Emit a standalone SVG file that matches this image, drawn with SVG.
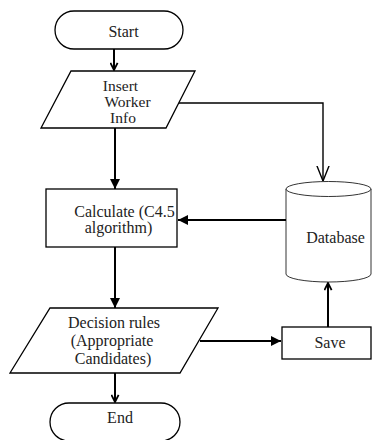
<svg xmlns="http://www.w3.org/2000/svg" width="372" height="440" viewBox="0 0 372 440">
<style>
.shape{fill:#fff;stroke:#000;stroke-width:1.3}
.thin{fill:#fff;stroke:#000;stroke-width:0.8}
.t{font-family:"Liberation Serif","Times New Roman",serif;font-size:16px;fill:#222;text-anchor:middle}
.s{font-size:15.5px}
.c{fill:none;stroke:#000;stroke-width:2}
.c1{fill:none;stroke:#000;stroke-width:1.4}
</style>
<defs>
<marker id="tri" viewBox="0 0 10 10" refX="10" refY="5" markerWidth="5" markerHeight="5" orient="auto" markerUnits="strokeWidth">
<path d="M0,0 L10,5 L0,10 z" fill="#000"/>
</marker>
<marker id="vee" viewBox="0 0 10 10" refX="9" refY="5" markerWidth="4.5" markerHeight="4.5" orient="auto" markerUnits="strokeWidth">
<path d="M1,1 L9,5 L1,9" fill="none" stroke="#000" stroke-width="2"/>
</marker>
<marker id="veet" viewBox="0 0 10 10" refX="10" refY="5" markerWidth="11" markerHeight="11" orient="auto" markerUnits="strokeWidth">
<path d="M0,1 L10,5 L0,9" fill="none" stroke="#000" stroke-width="0.9"/>
</marker>
</defs>
<g id="connectors">
<line class="c" x1="114" y1="49" x2="114" y2="70" marker-end="url(#vee)"/>
<line class="c" x1="115" y1="128" x2="115" y2="189" marker-end="url(#tri)"/>
<polyline class="c1" points="179,103 323,103 323,181" marker-end="url(#veet)"/>
<line class="c" x1="286" y1="220" x2="178" y2="220" marker-end="url(#tri)"/>
<line class="c" x1="115" y1="247" x2="115" y2="308" marker-end="url(#tri)"/>
<line class="c" x1="200" y1="341" x2="281" y2="341" marker-end="url(#tri)"/>
<line class="c" x1="328" y1="327" x2="328" y2="283" marker-end="url(#vee)"/>
<line class="c" x1="115" y1="373" x2="115" y2="402" marker-end="url(#vee)"/>
</g>
<g id="start">
<rect class="shape" x="55" y="11" width="128" height="38" rx="19"/>
<text class="t" x="123.5" y="37">Start</text>
</g>
<g id="insert">
<polygon class="shape" points="71,71 195,71 166,128 41,128"/>
<text class="t s" x="120.5" y="91">Insert</text>
<text class="t s" x="127.5" y="107">Worker</text>
<text class="t s" x="123" y="123">Info</text>
</g>
<g id="calculate">
<rect class="shape" x="46" y="189" width="131" height="58"/>
<text class="t" x="124.5" y="217">Calculate (C4.5</text>
<text class="t" x="118.5" y="233">algorithm)</text>
</g>
<g id="database">
<path class="thin" d="M286,189 L286,274 A42.5,8 0 0 0 371,274 L371,189"/>
<ellipse class="thin" cx="328.5" cy="189" rx="42.5" ry="7.5"/>
<text class="t" x="335.5" y="243">Database</text>
</g>
<g id="decision">
<polygon class="shape" points="50,308 218,308 180,373 10,373"/>
<text class="t" x="114" y="328">Decision rules</text>
<text class="t" x="112" y="346">(Appropriate</text>
<text class="t" x="113" y="364">Candidates)</text>
</g>
<g id="save">
<rect class="shape" x="282" y="327" width="89" height="32"/>
<text class="t" x="330" y="348">Save</text>
</g>
<g id="end">
<rect class="shape" x="50" y="403" width="130" height="38" rx="19"/>
<text class="t" x="120" y="423">End</text>
</g>
</svg>
